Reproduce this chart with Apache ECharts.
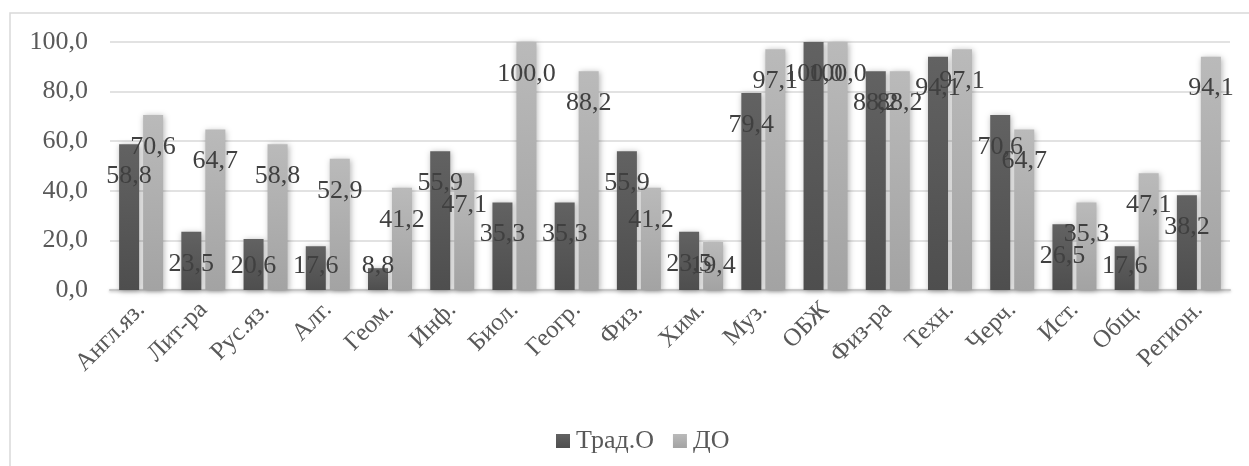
<!DOCTYPE html>
<html>
<head>
<meta charset="utf-8">
<script src="https://cdn.jsdelivr.net/npm/echarts@6/dist/echarts.min.js"></script>
<style>
html,body{margin:0;padding:0;background:#fff;}
#chart{width:1249px;height:466px;}
</style>
</head>
<body>
<div id="chart"></div>
<script>
var categories = ['Англ.яз.','Лит-ра','Рус.яз.','Алг.','Геом.','Инф.','Биол.','Геогр.','Физ.','Хим.','Муз.','ОБЖ','Физ-ра','Техн.','Черч.','Ист.','Общ.','Регион.'];
var tradValues = [58.8,23.5,20.6,17.6,8.8,55.9,35.3,35.3,55.9,23.5,79.4,100.0,88.2,94.1,70.6,26.5,17.6,38.2];
var doValues = [70.6,64.7,58.8,52.9,41.2,47.1,100.0,88.2,41.2,19.4,97.1,100.0,88.2,97.1,64.7,35.3,47.1,94.1];
var seriesNames = ['Трад.О','ДО'];
var yTicks = [0,20,40,60,80,100];

var FONT = '"Liberation Serif", "Times New Roman", serif';

function mkData(arr){
  return arr.map(function(v){
    var o = {value: v};
    if (v < 22) {
      o.label = {position: 'insideBottom', distance: 11};
    }
    return o;
  });
}
function grad(top, bottom){
  return new echarts.graphic.LinearGradient(0,0,0,1,[{offset:0,color:top},{offset:1,color:bottom}]);
}
var labelStyle = {
  show: true,
  position: 'insideTop',
  distance: 19,
  fontFamily: FONT,
  fontSize: 26,
  color: '#404040',
  formatter: function(p){ return p.value.toFixed(1).replace('.', ','); }
};

var chart = echarts.init(document.getElementById('chart'));
chart.setOption({
  animation: false,
  backgroundColor: '#fff',
  graphic: [{
    type: 'rect',
    shape: {x: 10, y: 13, width: 1260, height: 470},
    style: {fill: 'none', stroke: '#d9d9d9', lineWidth: 1.5},
    silent: true
  }],
  grid: {left: 110, right: 19, top: 42, bottom: 176},
  legend: {
    left: 551,
    top: 423,
    itemWidth: 14,
    itemHeight: 14,
    itemGap: 19,
    icon: 'rect',
    textStyle: {fontFamily: FONT, fontSize: 26, color: '#595959', padding: [0,0,0,1]},
    data: seriesNames
  },
  xAxis: {
    type: 'category',
    data: categories,
    axisTick: {show: false},
    axisLine: {lineStyle: {color: '#c8c8c8', width: 2, shadowColor: 'rgba(0,0,0,0.25)', shadowBlur: 3, shadowOffsetY: 1}},
    axisLabel: {rotate: 45, margin: 16, fontFamily: FONT, fontSize: 25, color: '#595959', interval: 0}
  },
  yAxis: {
    type: 'value',
    min: yTicks[0],
    max: yTicks[yTicks.length-1],
    interval: 20,
    axisLine: {show: false},
    axisTick: {show: false},
    splitLine: {lineStyle: {color: '#d9d9d9', width: 1.5}},
    axisLabel: {margin: 22, fontFamily: FONT, fontSize: 26, color: '#595959', formatter: function(v){ return v.toFixed(1).replace('.', ','); }}
  },
  series: [{
    name: seriesNames[0],
    type: 'bar',
    barWidth: 20,
    barGap: '20%',
    data: mkData(tradValues),
    itemStyle: {color: grad('#626262', '#4e4e4e'), shadowColor: 'rgba(0,0,0,0.3)', shadowBlur: 6, shadowOffsetX: 1, shadowOffsetY: 1},
    label: labelStyle
  },{
    name: seriesNames[1],
    type: 'bar',
    barWidth: 20,
    barGap: '20%',
    data: mkData(doValues),
    itemStyle: {color: grad('#bababa', '#a3a3a3'), shadowColor: 'rgba(0,0,0,0.3)', shadowBlur: 6, shadowOffsetX: 1, shadowOffsetY: 1},
    label: labelStyle
  }]
});
</script>
</body>
</html>
